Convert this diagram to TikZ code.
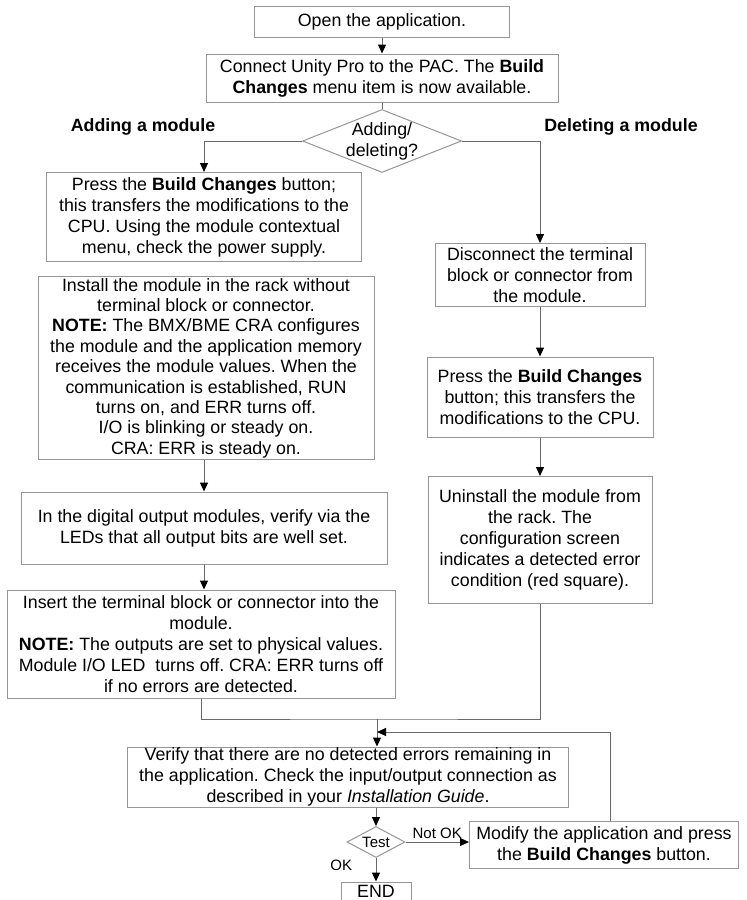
\documentclass[tikz,border=0pt]{standalone}
\usepackage{fontspec}
\setmainfont{Liberation Sans}
\frenchspacing
\usetikzlibrary{shapes.geometric, arrows.meta}
\definecolor{boxgray}{RGB}{150,150,150}
\definecolor{linegray}{RGB}{105,105,105}

\begin{document}
\begin{tikzpicture}[x=1pt, y=-1pt, line width=1pt, >={Triangle[width=8pt, length=9pt, color=black]},
    every node/.style={font=\fontsize{17.8}{21}\selectfont, align=center},
    block/.style={draw=boxgray, inner sep=0pt},
    decision/.style={draw=boxgray, diamond, inner sep=0pt},
    heading/.style={font=\fontsize{17.8}{21}\selectfont\bfseries},
    small/.style={font=\fontsize{15}{17}\selectfont},
    line/.style={draw=linegray}]
    \useasboundingbox (0, 0) rectangle (747, 900);

    % BLOCKS
    \node (open) at (382, 22) [block, minimum width=255pt, minimum height=31pt] {Open the application.};
    \node (connect) at (382, 78) [block, minimum width=352pt, minimum height=48pt] {Connect Unity Pro to the PAC. The \textbf{Build}\\\textbf{Changes} menu item is now available.};
    \node (choice) at (382, 141) [decision, minimum width=159pt, minimum height=63pt] {};
    \node (choicetext) at (choice) {Adding/\\deleting?};

    \node (addlabel) at (143, 127) [heading] {Adding a module};
    \node (dellabel) at (621, 127) [heading] {Deleting a module};

    % Adding branch
    \node (pressL) at (204, 217) [block, minimum width=315pt, minimum height=89pt] {Press the \textbf{Build Changes} button;\\this transfers the modifications to the\\CPU. Using the module contextual\\menu, check the power supply.};
    \node (install) at (206, 368) [block, minimum width=336pt, minimum height=183pt, font=\fontsize{17.8}{20.4}\selectfont] {Install the module in the rack without\\terminal block or connector.\\\textbf{NOTE:} The BMX/BME CRA configures\\the module and the application memory\\receives the module values. When the\\communication is established, RUN\\turns on, and ERR turns off.\\I/O is blinking or steady on.\\CRA: ERR is steady on.};
    \node (digital) at (204, 528) [block, minimum width=366pt, minimum height=72pt] {In the digital output modules, verify via the\\LEDs that all output bits are well set.};
    \node (insert) at (201, 644) [block, minimum width=388pt, minimum height=108pt] {Insert the terminal block or connector into the\\module.\\\textbf{NOTE:} The outputs are set to physical values.\\Module I/O LED\ \ turns off. CRA: ERR turns off\\if no errors are detected.};

    % Deleting branch
    \node (disconnect) at (540, 275) [block, minimum width=210pt, minimum height=63pt] {Disconnect the terminal\\block or connector from\\the module.};
    \node (pressR) at (540, 397) [block, minimum width=226pt, minimum height=80pt] {Press the \textbf{Build Changes}\\button; this transfers the\\modifications to the CPU.};
    \node (uninstall) at (540, 540) [block, minimum width=224pt, minimum height=127pt] {Uninstall the module from\\the rack. The\\configuration screen\\indicates a detected error\\condition (red square).};

    % Check and test
    \coordinate (merge) at (377, 719);
    \coordinate (back) at (377, 732);
    \node (verify) at (348, 777) [block, minimum width=441pt, minimum height=60pt] {Verify that there are no detected errors remaining in\\the application. Check the input/output connection as\\described in your \textit{Installation Guide}.};
    \node (test) at (376, 842) [decision, minimum width=58pt, minimum height=31pt] {};
    \node (testtext) at (test) [small] {Test};
    \node (modify) at (604, 845) [block, minimum width=269pt, minimum height=47pt] {Modify the application and press\\the \textbf{Build Changes} button.};
    \node (end) at (376, 891) [block, minimum width=70pt, minimum height=18pt] {END};

    % CONNEXIONS
    \draw[line, ->] (open) -- (connect);
    \draw[line] (connect) -- (choice);
    \draw[line, ->] (choice.west) -| (pressL.north);
    \draw[line, ->] (choice.east) -| (disconnect.north);

    \draw[line, ->] (digital.north |- install.south) -- (digital.north);
    \draw[line, ->] (digital) -- (digital |- insert.north);

    \draw[line, ->] (disconnect) -- (pressR);
    \draw[line, ->] (pressR) -- (uninstall);

    % Merge and loop back
    \draw[line] (insert.south) |- (merge) -| (uninstall.south);
    \draw[line, ->] (merge) -- (merge |- verify.north);
    \draw[line, ->] ([xshift=6pt]modify.north) |- (back);

    \draw[line, ->] (verify.south -| test.north) -- (test.north);
    \draw[line, ->] (test.east) -- node[above, small] {Not OK} (test.east -| modify.west);
    \draw[line, ->] (test.south) -- node[left=20pt, small, pos=0.3] {OK} (end.north);
\end{tikzpicture}
\end{document}
